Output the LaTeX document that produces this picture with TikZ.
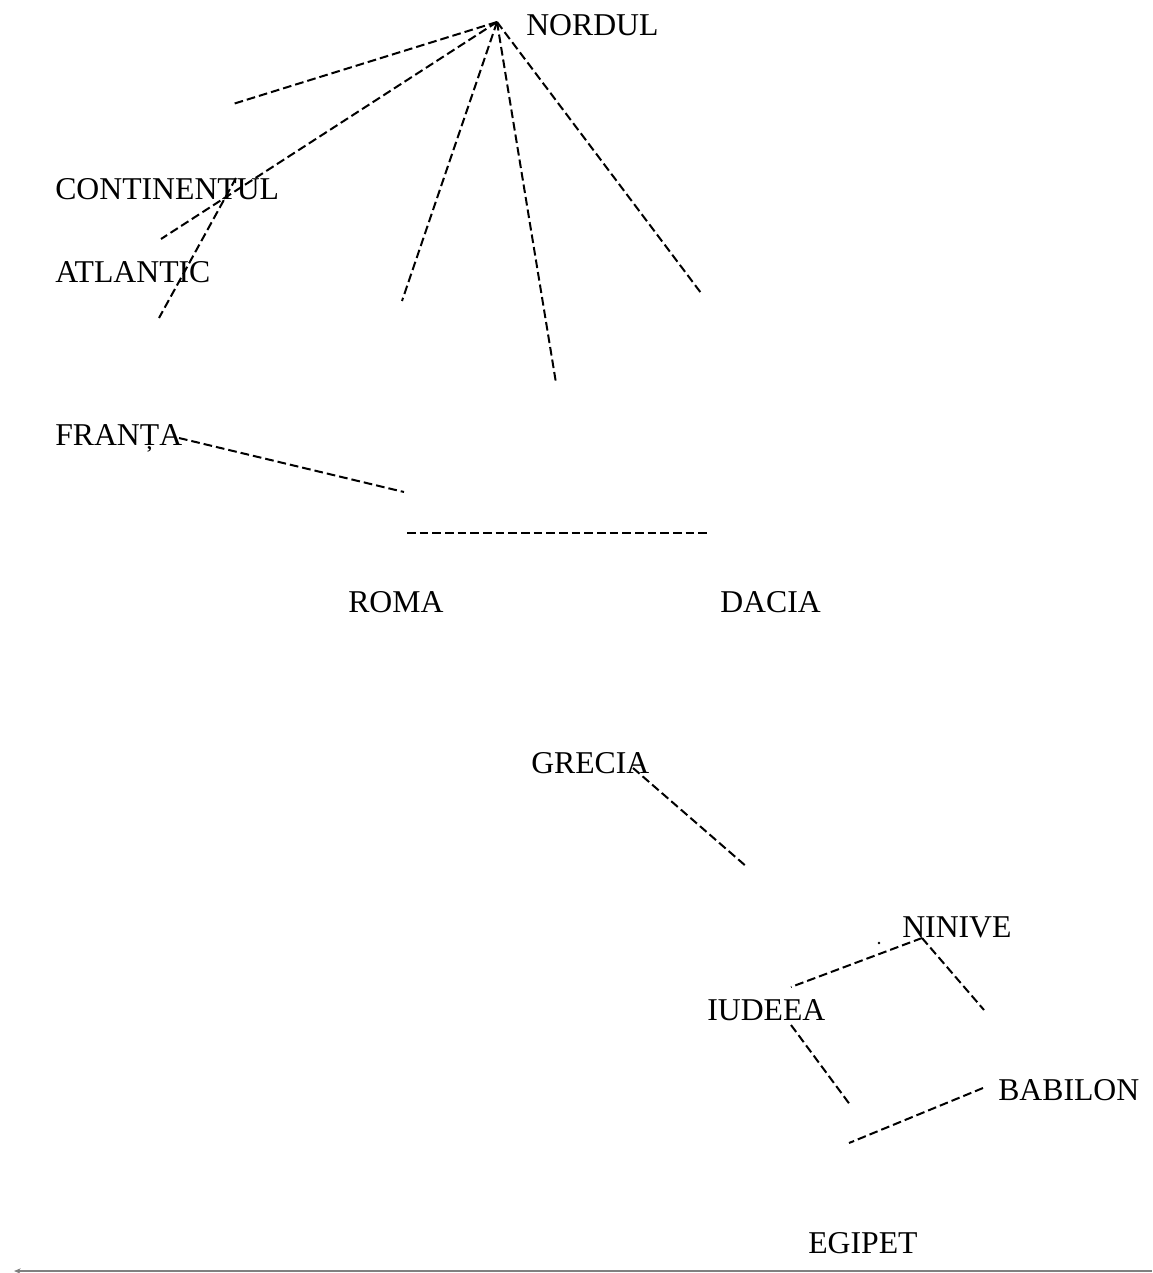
\documentclass[tikz,border=0pt]{standalone}
\usepackage{fontspec}
\setmainfont{Liberation Serif}
\usetikzlibrary{arrows.meta}
\begin{document}
\begin{tikzpicture}[x=0.75pt,y=-0.75pt,
  lbl/.style={anchor=base west,inner sep=0pt,font=\fontsize{23.8}{28}\selectfont},
  dline/.style={line width=1.5pt,dash pattern=on 6.5pt off 3pt,black},
  baseline/.style={line width=1.2pt,draw=gray}]
\useasboundingbox (0,0) rectangle (1152,1273);
% labels
\node[lbl] (nordul) at (526,36) {NORDUL};
\node[lbl] (continentul) at (55,200) {CONTINENTUL};
\node[lbl] (atlantic) at (55,282) {ATLANTIC};
\node[lbl] (franta) at (55,445) {FRANȚA};
\node[lbl] (roma) at (348,612) {ROMA};
\node[lbl] (dacia) at (720,612) {DACIA};
\node[lbl] (grecia) at (531,773) {GRECIA};
\node[lbl] (ninive) at (902,937) {NINIVE};
\node[lbl] (iudeea) at (707,1020) {IUDEEA};
\node[lbl] (babilon) at (998,1100) {BABILON};
\node[lbl] (egipet) at (808,1253) {EGIPET};
% coordinates
\coordinate (hub) at (497,22);
\coordinate (e1) at (233,104);
\coordinate (e2) at (161,239);
\coordinate (a1) at (236,178);
\coordinate (e3) at (159,318);
\coordinate (e4) at (402,301);
\coordinate (e5) at (556,383);
\coordinate (e6) at (701,293);
\coordinate (fs) at (179,438);
\coordinate (fe) at (404,492);
\coordinate (hs) at (407,533);
\coordinate (he) at (708,533);
\coordinate (gs) at (633,768);
\coordinate (ge) at (747,867);
\coordinate (nn) at (922,938);
\coordinate (ni) at (791,987);
\coordinate (nb) at (984,1010);
\coordinate (dot) at (879,943);
\coordinate (is) at (791,1025);
\coordinate (ie) at (851,1106);
\coordinate (bs) at (983,1088);
\coordinate (be) at (849,1143);
\coordinate (ls) at (1152,1271);
\coordinate (le) at (14,1271);
% connectors
\foreach \e in {e1,e2,e4,e5,e6} \draw[dline] (hub) -- (\e);
\draw[dline] (a1) -- (e3);
\draw[dline] (fs) -- (fe);
\draw[dline] (hs) -- (he);
\draw[dline] (gs) -- (ge);
\draw[dline] (nn) -- (ni);
\draw[dline] (nn) -- (nb);
\fill (dot) circle (1pt);
\draw[dline] (is) -- (ie);
\draw[dline] (bs) -- (be);
\draw[baseline,-{Stealth[length=5pt,width=4pt,fill=black]}] (ls) -- (le);
\end{tikzpicture}
\end{document}
